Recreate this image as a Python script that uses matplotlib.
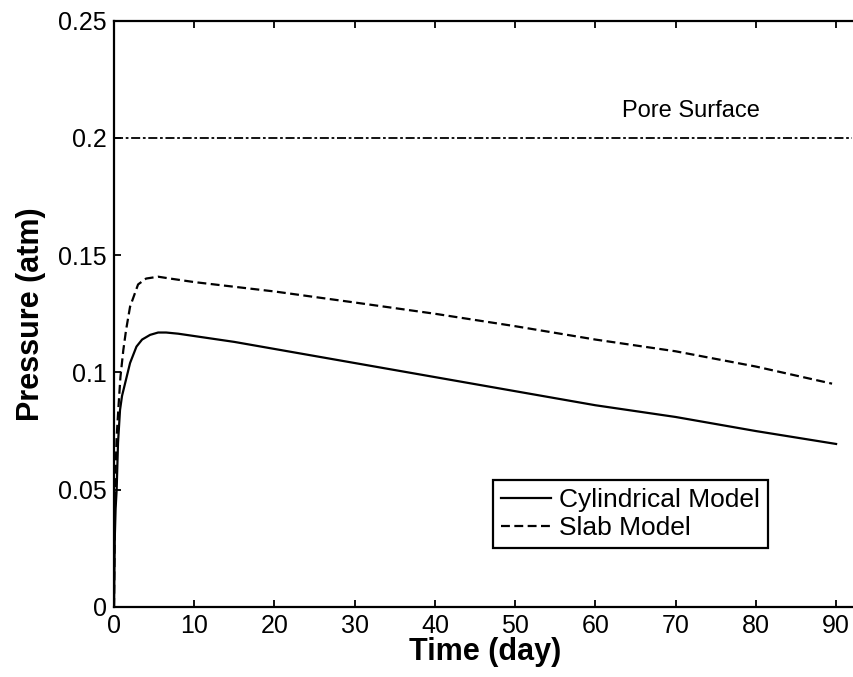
import numpy as np
import matplotlib.pyplot as plt

plt.rcParams['font.family'] = ['Liberation Sans', 'DejaVu Sans']

t_cyl = [0, 0.1, 0.2, 0.33, 0.5, 0.75, 1.0, 1.5, 2.0, 2.8, 3.5, 4.5, 5.5, 6.5, 8, 10,
         15, 20, 30, 40, 50, 60, 70, 80, 90]
p_cyl = [0, 0.030, 0.042, 0.050, 0.070, 0.084, 0.090, 0.097, 0.104, 0.111, 0.114, 0.116,
         0.117, 0.117, 0.1165, 0.1155, 0.113, 0.110, 0.104, 0.098, 0.092, 0.086, 0.081,
         0.075, 0.0695]

t_slab = [0, 0.1, 0.2, 0.33, 0.55, 0.8, 1.16, 1.5, 2.0, 3.0, 4.0, 5.5, 7, 10, 20, 30,
          40, 50, 60, 70, 80, 89.5]
p_slab = [0, 0.040, 0.058, 0.0725, 0.085, 0.098, 0.1095, 0.118, 0.128, 0.1375, 0.140,
          0.1408, 0.1400, 0.1385, 0.1345, 0.1298, 0.125, 0.1197, 0.114, 0.109, 0.1025,
          0.0952]

t_pore = [0, 92]
p_pore = [0.2, 0.2]

fig = plt.figure(figsize=(8.54, 6.77), dpi=100)
ax = fig.add_axes([0.1335, 0.1034, 0.869, 0.8663])

ax.plot(t_cyl, p_cyl, color='black', lw=1.6, label='Cylindrical Model')
ax.plot(t_slab, p_slab, color='black', lw=1.6, dashes=(4, 2), label='Slab Model')
ax.plot(t_pore, p_pore, color='black', lw=1.3, dashes=(5, 1.5, 1.5, 1.5))
ax.text(63.3, 0.2087, 'Pore Surface', fontsize=17, va='baseline', ha='left')

ax.set_xlim(0, 92.5)
ax.set_ylim(0, 0.25)
ax.set_xticks(range(0, 91, 10))
ax.set_yticks([0, 0.05, 0.1, 0.15, 0.2, 0.25])
ax.set_yticklabels(['0', '0.05', '0.1', '0.15', '0.2', '0.25'])
ax.tick_params(direction='in', length=5, width=1.3, labelsize=18, pad=5,
               top=True, right=False)
for s in ax.spines.values():
    s.set_linewidth(1.6)

ax.set_xlabel('Time (day)', fontsize=22, fontweight='bold', labelpad=-1)
ax.set_ylabel('Pressure (atm)', fontsize=22, fontweight='bold', labelpad=9)

leg = ax.legend(loc='lower left', bbox_to_anchor=(0.511, 0.1006), borderaxespad=0,
                fontsize=19, fancybox=False, edgecolor='black', framealpha=1,
                handlelength=1.9, handletextpad=0.3, borderpad=0.3, labelspacing=0.15)
leg.get_frame().set_linewidth(1.6)

fig.savefig('out.png', dpi=100)
